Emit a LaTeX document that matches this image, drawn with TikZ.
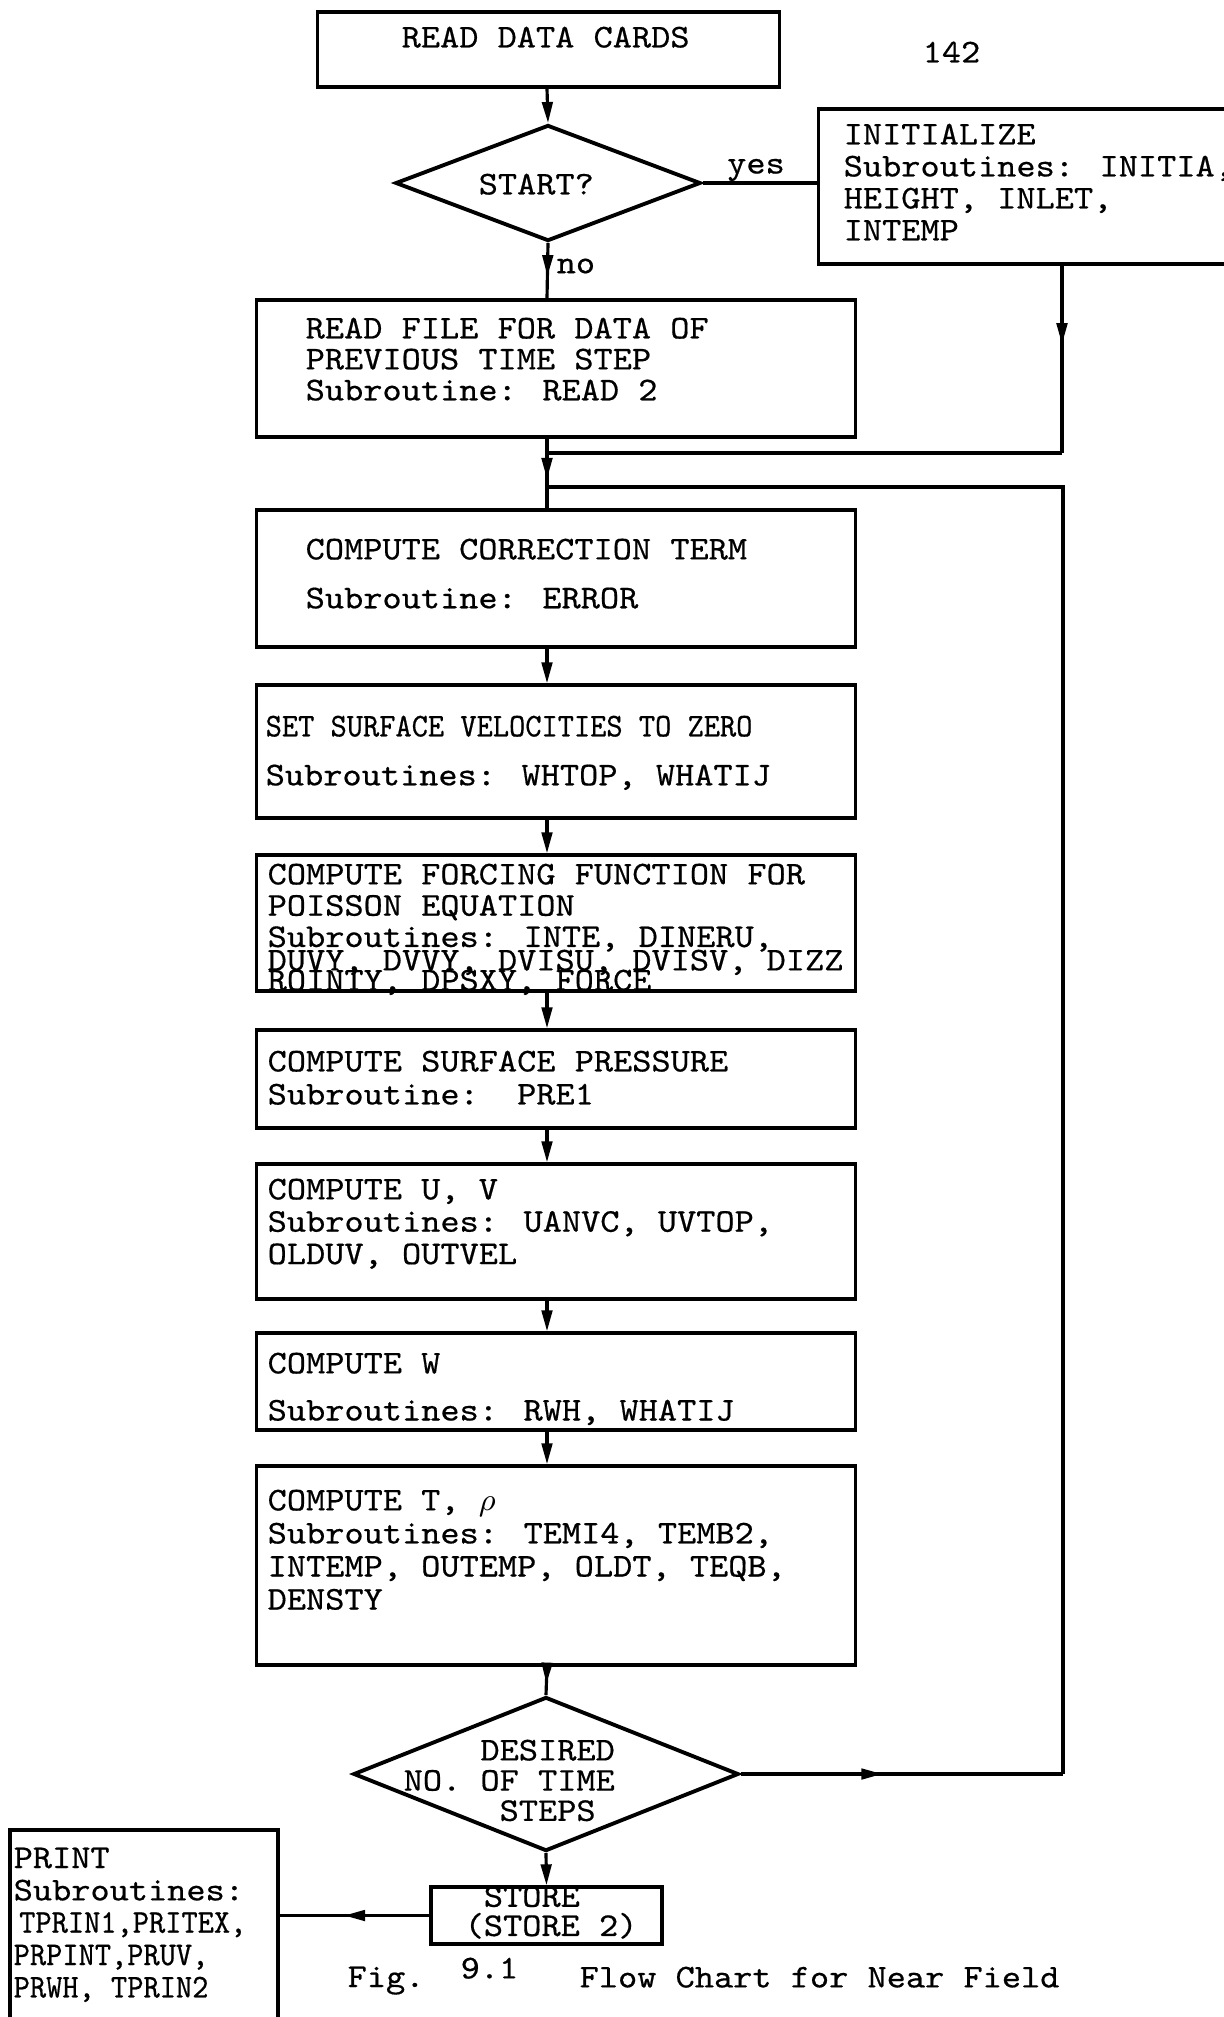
\documentclass[tikz,border=0pt]{standalone}
\usepackage{fontspec}
\newfontfamily\tyfont[FakeStretch=1.1,FakeBold=0.5]{lmmono10-regular.otf}
\newfontfamily\tynarrow[FakeStretch=0.93,FakeBold=0.5]{lmmono10-regular.otf}
\usetikzlibrary{arrows.meta,shapes.geometric,positioning,decorations.markings}

\begin{document}
\begin{tikzpicture}[x=0.01cm, y=-0.01cm,
  box/.style={rectangle, draw, line width=0.9pt, inner sep=0pt},
  dec/.style={diamond, draw, line width=1.1pt, inner sep=0pt},
  txt/.style={inner sep=0pt, anchor=north west, align=left,
              font=\tyfont\fontsize{9.45pt}{#1}\selectfont},
  txt/.default=9.2pt,
  lbl/.style={inner sep=0pt, font=\tyfont\fontsize{9.45pt}{10pt}\selectfont},
  con/.style={line width=0.9pt},
  arr/.style={-{Triangle[length=6pt,width=3pt]}, line width=0.9pt},
  midarr/.style={line width=0.9pt, postaction={decorate,
      decoration={markings, mark=at position #1 with
        {\arrow{Triangle[length=6pt,width=3pt]}}}}}
]
  \useasboundingbox (0,0) rectangle (1224,2017);
  \clip (0,0) rectangle (1224,2017);
  \fill[white] (0,0) rectangle (1224,2017);
  \coordinate (axis) at (547,0);

  % top: read cards and start test
  \node[box, minimum width=4.61cm, minimum height=0.75cm] (cards) at (548.5,49.5) {};
  \node[txt] (cardsT) at (401,26) {READ DATA CARDS};
  \node[lbl, anchor=north west] (page) at (922,41) {142};

  \node[dec, minimum width=3.05cm, minimum height=1.16cm] (start) at (548,183) {};
  \node[txt] (startT) at (478,173) {START?};
  \node[lbl] (yes) at (756,170) {yes};
  \node[lbl, anchor=west] (no) at (556,266) {no};

  \node[box, minimum width=4.21cm, minimum height=1.55cm] (init) at (1029.5,186.5) {};
  \node[txt=9.1pt] (initT) at (843,123)
    {INITIALIZE\\Subroutines: INITIA,\\HEIGHT, INLET,\\INTEMP};

  % main column
  \node[box, minimum width=5.98cm, minimum height=1.37cm] (read2) at (556,368.5) {};
  \node[txt=8.8pt] (read2T) at (305,317)
    {READ FILE FOR DATA OF\\PREVIOUS TIME STEP\\Subroutine: READ 2};

  \node[box, minimum width=5.98cm, minimum height=1.37cm] (corr) at (556,578.5) {};
  \node[txt=13.9pt] (corrT) at (305,538)
    {COMPUTE CORRECTION TERM\\Subroutine: ERROR};

  \node[box, minimum width=5.98cm, minimum height=1.33cm] (surf) at (556,751.5) {};
  \node[txt=13.9pt] (surfT) at (265,715)
    {{\tynarrow SET SURFACE VELOCITIES TO ZERO}\\Subroutines: WHTOP, WHATIJ};

  \node[txt=8.9pt] (forcT) at (267,863)
    {COMPUTE FORCING FUNCTION FOR\\POISSON EQUATION\\Subroutines: INTE, DINERU,};
  \node[txt] (forcT2) at (267,949) {DUVY, DVVY, DVISU, DVISV, DIZZ};
  \node[txt] (forcT3) at (267,969) {ROINTY, DPSXY, FORCE};
  \node[box, minimum width=5.98cm, minimum height=1.36cm] (forc) at (556,923) {};

  \node[box, minimum width=5.98cm, minimum height=0.98cm] (press) at (556,1079) {};
  \node[txt=9.4pt] (pressT) at (267,1050)
    {COMPUTE SURFACE PRESSURE\\Subroutine:\ \ PRE1};

  \node[box, minimum width=5.98cm, minimum height=1.35cm] (uv) at (556,1231.5) {};
  \node[txt=9.2pt] (uvT) at (267,1178)
    {COMPUTE U, V\\Subroutines: UANVC, UVTOP,\\OLDUV, OUTVEL};

  \node[box, minimum width=5.98cm, minimum height=0.97cm] (compw) at (556,1381.5) {};
  \node[txt=13.4pt] (compwT) at (267,1352)
    {COMPUTE W\\Subroutines: RWH, WHATIJ};

  \node[box, minimum width=5.98cm, minimum height=1.99cm] (compt) at (556,1565.5) {};
  \node[txt=9.4pt] (comptT) at (267,1489)
    {COMPUTE T, $\rho$\\Subroutines: TEMI4, TEMB2,\\INTEMP, OUTEMP, OLDT, TEQB,\\DENSTY};

  % bottom: time step test, store and print
  \node[dec, minimum width=3.85cm, minimum height=1.54cm] (desired) at (546,1774) {};
  \node[txt=8.6pt] (desiredT) at (403,1739)
    {\phantom{XXXX}DESIRED\\NO. OF TIME\\\phantom{XXXXX}STEPS};

  \node[box, minimum width=2.31cm, minimum height=0.57cm] (store) at (546.5,1915.5) {};
  \node[txt=8.3pt] (storeT) at (464,1883) {\phantom{(}STORE\\(STORE 2)};

  \node[box, minimum width=2.68cm, minimum height=2.10cm] (print) at (144,1935) {};
  \node[txt=9.2pt] (printT) at (13,1847)
    {PRINT\\Subroutines:\\{\tynarrow\,TPRIN1,PRITEX,}\\{\tynarrow PRPINT,PRUV,}\\{\tynarrow PRWH, TPRIN2}};

  \node[txt] (figA) at (347,1966) {Fig.};
  \node[txt] (figB) at (460,1957) {9.1};
  \node[txt] (figC) at (579,1966) {Flow Chart for Near Field};

  % connectors
  \coordinate (initB) at (1062,453);
  \coordinate (loopR) at (1063,1774);
  \coordinate (loopT) at (1063,487);

  \draw[arr] (cards.south -| axis) -- (start.north);
  \draw[con] (start.east) -- (start.east -| init.west);
  \draw[midarr=0.6] (start.south) -- (read2.north -| axis);
  \draw[midarr=0.42] (init.south -| initB) -- (initB);
  \draw[con] (initB) -- (initB -| axis);
  \draw[midarr=0.58] (read2.south -| axis) -- (corr.north -| axis);
  \foreach \from/\to in {corr/surf, surf/forc, forc/press, press/uv, uv/compw, compw/compt}
    \draw[arr] (\from.south -| axis) -- (\to.north -| axis);
  \draw[midarr=0.6] (compt.south -| axis) -- (desired.north);
  \draw[arr] (desired.south) -- (store.north);
  \draw[midarr=0.57] (store.west) -- (store.west -| print.east);
  \draw[midarr=0.44] (desired.east) -- (loopR);
  \draw[con] (loopR) -- (loopT) -- (loopT -| axis);
\end{tikzpicture}
\end{document}
